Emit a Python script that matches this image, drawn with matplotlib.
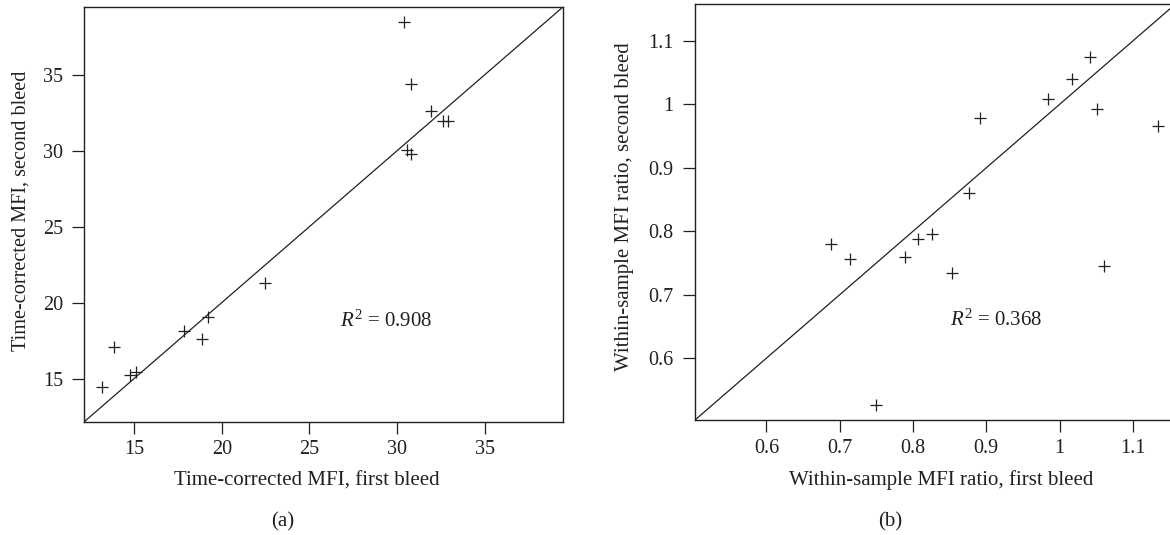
import numpy as np
import matplotlib
matplotlib.use("Agg")
import matplotlib.pyplot as plt

# time-corrected MFI, first vs second bleed
mfi_first = [30.39, 30.77, 31.91, 32.64, 32.92, 30.54, 30.79, 22.49,
             19.22, 17.83, 18.88, 13.84, 14.79, 15.13, 13.17]
mfi_second = [38.47, 34.36, 32.59, 31.95, 31.95, 30.02, 29.76, 21.30,
              19.06, 18.11, 17.63, 17.08, 15.26, 15.44, 14.41]
mfi_ticks = [15, 20, 25, 30, 35]
mfi_r2 = 0.908

# within-sample MFI ratio, first vs second bleed
ratio_first = [0.6875, 0.7138, 0.7494, 0.7891, 0.8065, 0.8254, 0.8536, 0.8769,
               0.8918, 0.9840, 1.0164, 1.0412, 1.0510, 1.0610, 1.1340]
ratio_second = [0.7803, 0.7562, 0.5268, 0.7588, 0.7871, 0.7956, 0.7346, 0.8602,
                0.9783, 1.0091, 1.0402, 1.0743, 0.9929, 0.7457, 0.9661]
ratio_ticks = [0.6, 0.7, 0.8, 0.9, 1.0, 1.1]
ratio_ticklabels = ["0.6", "0.7", "0.8", "0.9", "1", "1.1"]
ratio_r2 = 0.368

ink = "#231f20"
plt.rcParams["font.family"] = ["Liberation Serif", "DejaVu Serif"]
plt.rcParams["mathtext.fontset"] = "custom"
plt.rcParams["mathtext.rm"] = "Liberation Serif"
plt.rcParams["mathtext.it"] = "Liberation Serif:italic"
plt.rcParams["text.color"] = ink

W, H = 1170, 535
fig = plt.figure(figsize=(W / 100, H / 100), dpi=100)


def px(x0, y0, x1, y1):
    # pixel box (top-left origin) -> figure fraction rect
    return [x0 / W, 1 - y1 / H, (x1 - x0) / W, (y1 - y0) / H]


def common_lim(a, b):
    # same range on both axes, padded 4% like R's default
    lo = min(min(a), min(b))
    hi = max(max(a), max(b))
    d = 0.04 * (hi - lo)
    return lo - d, hi + d


def panel(rect, xs, ys, ticks, ticklabels, r2, r2pos, xpad, ypad):
    ax = fig.add_axes(rect)
    lo, hi = common_lim(xs, ys)
    ax.set_xlim(lo, hi)
    ax.set_ylim(lo, hi)
    ax.plot([lo, hi], [lo, hi], color=ink, lw=0.9)
    ax.plot(xs, ys, "+", color=ink, ms=8, mew=0.9, clip_on=False)
    ax.set_xticks(ticks)
    ax.set_yticks(ticks)
    ax.set_xticklabels(ticklabels)
    ax.set_yticklabels(ticklabels)
    for s in ax.spines.values():
        s.set_linewidth(1.0)
        s.set_color(ink)
    ax.tick_params(direction="out", length=8.5, width=0.9, colors=ink,
                   labelsize=14.5, labelcolor=ink)
    ax.tick_params(axis="x", pad=xpad)
    ax.tick_params(axis="y", pad=ypad)
    ax.text(r2pos[0], r2pos[1], r"$R^{2}$ = %.3f" % r2, fontsize=15,
            ha="center", va="center", color=ink)
    return ax


ax1 = panel(px(84.3, 6.7, 563.3, 421.7), mfi_first, mfi_second,
            mfi_ticks, [str(t) for t in mfi_ticks], mfi_r2, (29.4, 18.8), 5, 6.5)
ax2 = panel(px(695, 4, 1175.5, 420), ratio_first, ratio_second,
            ratio_ticks, ratio_ticklabels, ratio_r2, (0.914, 0.660), 5, 7)


def ftext(x, y, s, size=15, **kw):
    fig.text(x / W, 1 - y / H, s, ha="center", va="center", fontsize=size, **kw)


ftext(307.3, 481, "Time-corrected MFI, first bleed")
ftext(20.7, 210.7, "Time-corrected MFI, second bleed", size=14.6, rotation=90)
ftext(282.7, 522, "(a)")
ftext(941.2, 480, "Within-sample MFI ratio, first bleed")
ftext(625, 207, "Within-sample MFI ratio, second bleed", rotation=90)
ftext(890, 522, "(b)")

fig.savefig("out.png", dpi=100)
